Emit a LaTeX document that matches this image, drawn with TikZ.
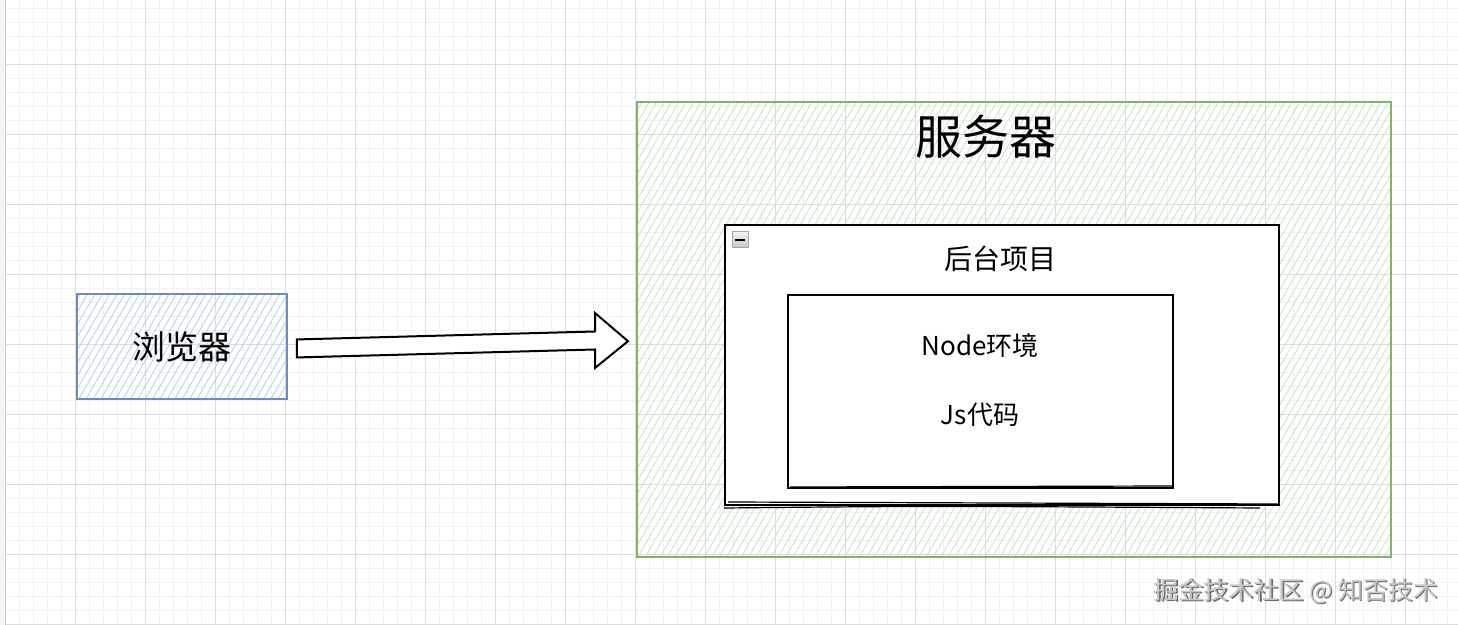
\documentclass[tikz,border=0pt]{standalone}
\usepackage{fontspec}
\setmainfont{Noto Sans CJK SC}
\usetikzlibrary{patterns.meta,calc}
\definecolor{gridminor}{HTML}{F1F1F1}
\definecolor{gridmajor}{HTML}{DCDCDC}
\definecolor{bluestroke}{HTML}{6C8EBF}
\definecolor{bluehatch}{HTML}{BFD0EA}
\definecolor{greenstroke}{HTML}{82B366}
\definecolor{greenhatch}{HTML}{CFE3CD}
\tikzset{
  minorline/.style={gridminor, line width=0.5pt},
  majorline/.style={gridmajor, line width=0.5pt},
  browserbox/.style={draw=bluestroke, line width=1pt, pattern={Lines[angle=60,distance=3.2pt,line width=0.45pt]}, pattern color=bluehatch},
  serverbox/.style={draw=greenstroke, line width=1.2pt, pattern={Lines[angle=60,distance=3.2pt,line width=0.45pt]}, pattern color=greenhatch},
  projbox/.style={draw=black, fill=white, line width=1pt},
  innerbox/.style={draw=black, fill=white, line width=1pt},
  blockarrow/.style={draw=black, fill=white, line width=1pt, line join=miter},
  lbl/.style={inner sep=0pt, text=black},
}
\begin{document}
\begin{tikzpicture}[x=0.5pt,y=-0.5pt]
\useasboundingbox (0,0) rectangle (1458,625);
\fill[white] (0,0) rectangle (1458,625);
% grid
\foreach \x in {5,19,...,1460} {\draw[minorline] (\x,0) -- (\x,625);}
\foreach \y in {9,23,...,625} {\draw[minorline] (6,\y) -- (1458,\y);}
\foreach \x in {5,75,...,1460} {\draw[majorline] (\x,0) -- (\x,625);}
\foreach \y in {65,135,...,625} {\draw[majorline] (6,\y) -- (1458,\y);}
\fill[gray!8] (0,0) rectangle (5,625);
\draw[gray!40, line width=0.6pt] (5.5,0) -- (5.5,625);

% browser
\node[browserbox, minimum width=105pt, minimum height=52.5pt, inner sep=0pt, anchor=north west] (browser) at (77,294) {};
\node[lbl, font=\fontsize{16.5pt}{18pt}\selectfont] (browsertext) at (browser.center) {浏览器};

% server
\node[serverbox, minimum width=377pt, minimum height=227.5pt, inner sep=0pt, anchor=north west] (server) at (636,101) {};
\node[lbl, font=\fontsize{23.5pt}{26pt}\selectfont] (servertitle) at (986,137) {服务器};

% project box
\node[projbox, minimum width=277pt, minimum height=140pt, inner sep=0pt, anchor=north west] (proj) at (724,224) {};
\draw[black, line width=0.6pt] ($(proj.south west)+(4,-4)$) -- ($(proj.south east)+(-2,-2)$);
\draw[black, line width=0.6pt] ($(proj.south west)+(0,2)$) .. controls ($(proj.south west)+(200,0)$) .. ($(proj.south east)+(-20,2)$);
\node[lbl, font=\fontsize{14pt}{16pt}\selectfont] (projtitle) at (1000,259) {后台项目};
% collapse icon
\node[draw=gray!70, top color=gray!10, bottom color=gray!45, minimum width=8pt, minimum height=8pt, inner sep=0pt, line width=0.5pt] (collapse) at (740,240) {};
\draw[black, line width=1.1pt] ($(collapse.center)+(-5,0)$) -- ($(collapse.center)+(5,0)$);

% inner box
\node[innerbox, minimum width=192.5pt, minimum height=96.5pt, inner sep=0pt, anchor=north west] (inner) at (787,294) {};
\draw[black, line width=0.6pt] ($(inner.south west)+(3,-2)$) -- ($(inner.south east)+(-2,-3)$);
\node[lbl, font=\fontsize{13pt}{15pt}\selectfont] (nodeenv) at (980,346) {Node环境};
\node[lbl, font=\fontsize{13pt}{15pt}\selectfont] (jscode) at (980,415) {Js代码};

% block arrow
\coordinate (as) at ($(browser.east)+(9,1.5)$);
\coordinate (ae) at ($(server.west)+(-8,11.5)$);
\draw[blockarrow] ($(as)+(0,-9)$) -- (595,331.5) -- (595,313) -- (ae) -- (595,368) -- (595,349.5) -- ($(as)+(0,9)$) -- cycle;

% watermark
\node[lbl, text=gray!85!black, font=\fontsize{12.5pt}{14pt}\selectfont] (wmshadow) at (1297.5,592.5) {掘金技术社区 @ 知否技术};
\node[lbl, text=gray!45, font=\fontsize{12.5pt}{14pt}\selectfont] (wm) at (1296,591) {掘金技术社区 @ 知否技术};
\end{tikzpicture}
\end{document}
